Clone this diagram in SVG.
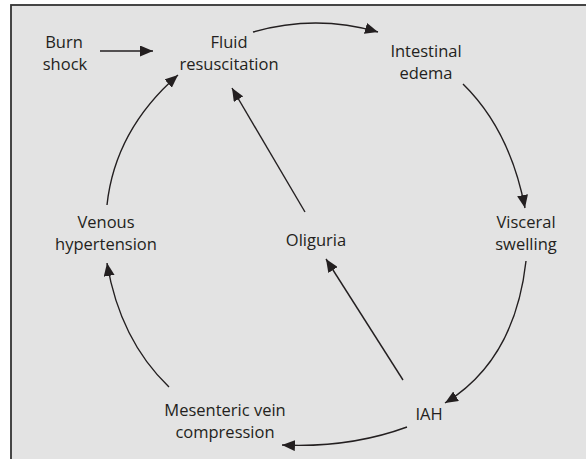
<svg xmlns="http://www.w3.org/2000/svg" width="586" height="459" viewBox="0 0 586 459">
<style>
text{font-family:"Open Sans","Noto Sans","Liberation Sans",sans-serif;font-size:16.5px;fill:#231f20;text-anchor:middle}
.c{fill:none;stroke:#231f20;stroke-width:1.4}
</style>
<defs>
<marker id="ah" viewBox="0 0 13 11" refX="13" refY="5.5" markerWidth="13" markerHeight="11" markerUnits="userSpaceOnUse" orient="auto">
<path d="M0,0 L13,5.5 L0,11 Z" fill="#231f20"/>
</marker>
</defs>
<rect x="0" y="0" width="586" height="459" fill="#ffffff"/>
<rect x="11" y="5" width="600" height="480" fill="#e3e3e3" stroke="#333" stroke-width="1.8"/>
<g id="connectors">
<path class="c" d="M100,51 L153,51" marker-end="url(#ah)"/>
<path class="c" d="M253,32 Q316,14 378,32" marker-end="url(#ah)"/>
<path class="c" d="M463,84 Q510,130 525,208" marker-end="url(#ah)"/>
<path class="c" d="M526,261 Q515,360 445,403" marker-end="url(#ah)"/>
<path class="c" d="M407,427 Q350,448 282,445" marker-end="url(#ah)"/>
<path class="c" d="M169,387 Q120,340 107,263" marker-end="url(#ah)"/>
<path class="c" d="M107,205 Q115,130 178,75" marker-end="url(#ah)"/>
<path class="c" d="M305,212 L232,88" marker-end="url(#ah)"/>
<path class="c" d="M403,380 L326,259" marker-end="url(#ah)"/>
</g>
<g id="burn-shock"><text x="64" y="48">Burn</text><text x="65" y="70">shock</text></g>
<g id="fluid-resuscitation"><text x="229" y="48">Fluid</text><text x="229" y="70">resuscitation</text></g>
<g id="intestinal-edema"><text x="426" y="57">Intestinal</text><text x="426" y="79">edema</text></g>
<g id="visceral-swelling"><text x="526" y="228">Visceral</text><text x="526" y="250">swelling</text></g>
<g id="iah"><text x="429" y="420">IAH</text></g>
<g id="mesenteric-vein-compression"><text x="225" y="416">Mesenteric vein</text><text x="225" y="438">compression</text></g>
<g id="venous-hypertension"><text x="106" y="228">Venous</text><text x="106" y="250">hypertension</text></g>
<g id="oliguria"><text x="316" y="246">Oliguria</text></g>
</svg>
